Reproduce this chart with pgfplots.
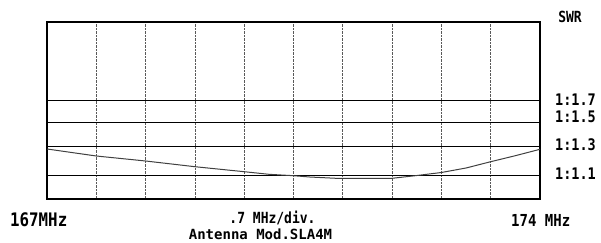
\documentclass[border=0pt]{standalone}
\usepackage{pgfplots}
\pgfplotsset{compat=1.18}
\usepackage{graphicx}
\usepackage{fontspec}
\setmonofont{DejaVu Sans Mono}
\newcommand{\tx}[2]{\scalebox{1}[1.18]{\ttfamily\bfseries\fontsize{#1}{#1}\selectfont #2}}
\begin{document}
\begin{tikzpicture}[x=1pt,y=1pt]
\useasboundingbox (0,0) rectangle (601,243);
\begin{axis}[
  at={(47pt,44pt)}, anchor=south west,
  scale only axis, width=493pt, height=177pt,
  xmin=167, xmax=174, ymin=0, ymax=177,
  xtick={167,167.7,168.4,169.1,169.8,170.5,171.2,171.9,172.6,173.3,174},
  ytick={24,52.7,77,98.3},
  xticklabels={}, yticklabels={},
  major tick length=0pt,
  xmajorgrids, ymajorgrids,
  major x grid style={black!65, densely dotted, line width=0.8pt},
  major y grid style={black, line width=0.9pt},
  axis line style={black, line width=1.1pt},
]
\addplot[black!75, line width=1pt] coordinates {
(167.0,50) (167.35,46.5) (167.7,43) (168.4,38) (169.1,32.3) (169.8,27.3)
(170.15,24.7) (170.5,23.3) (170.73,22) (171.1,20.7) (171.9,20.7)
(172.23,23.3) (172.6,26.5) (172.95,31) (173.3,37.3) (173.65,43.3) (174,49.7)
};
\end{axis}
\begin{scope}[every node/.style={inner sep=0pt}]
\node at (570,226) {\tx{13}{SWR}};
\node[anchor=west] at (555,143.7) {\tx{13.5}{1:1.7}};
\node[anchor=west] at (555,125.7) {\tx{13.5}{1:1.5}};
\node[anchor=west] at (555,98) {\tx{13.5}{1:1.3}};
\node[anchor=west] at (555,69.7) {\tx{13.5}{1:1.1}};
\node[anchor=west] at (10,23) {\tx{15.8}{167MHz}};
\node at (272.5,25) {\tx{13}{.7 MHz/div.}};
\node[anchor=south] at (260.5,3) {\ttfamily\bfseries\fontsize{14}{14}\selectfont Antenna Mod.SLA4M};
\node[anchor=west] at (511,23) {\tx{14}{174 MHz}};
\end{scope}
\end{tikzpicture}
\end{document}
